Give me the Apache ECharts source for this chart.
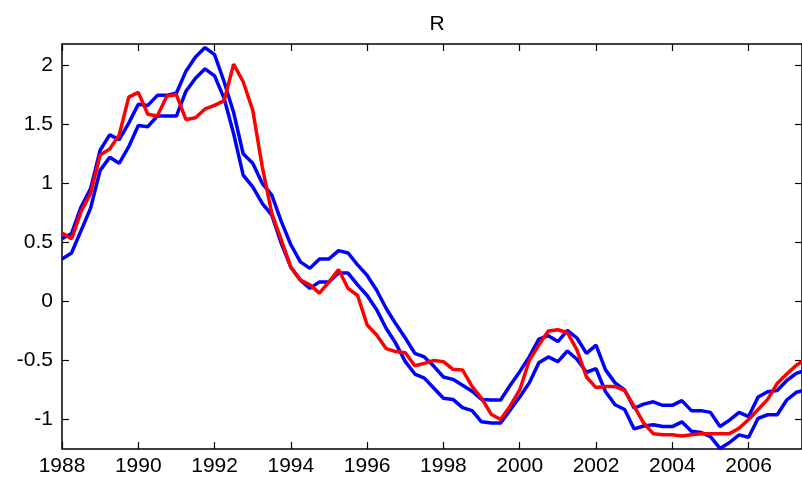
<!DOCTYPE html>
<html>
<head>
<meta charset="utf-8">
<script src="https://cdn.jsdelivr.net/npm/echarts@6/dist/echarts.min.js"></script>
<style>
html,body{margin:0;padding:0;background:#fff;}
#chart{width:802px;height:480px;}
</style>
</head>
<body>
<div id="chart"></div>
<script>
const titleText = 'R';
const dates = [1988,1988.25,1988.5,1988.75,1989,1989.25,1989.5,1989.75,1990,1990.25,1990.5,1990.75,
1991,1991.25,1991.5,1991.75,1992,1992.25,1992.5,1992.75,1993,1993.25,1993.5,1993.75,
1994,1994.25,1994.5,1994.75,1995,1995.25,1995.5,1995.75,1996,1996.25,1996.5,1996.75,
1997,1997.25,1997.5,1997.75,1998,1998.25,1998.5,1998.75,1999,1999.25,1999.5,1999.75,
2000,2000.25,2000.5,2000.75,2001,2001.25,2001.5,2001.75,2002,2002.25,2002.5,2002.75,
2003,2003.25,2003.5,2003.75,2004,2004.25,2004.5,2004.75,2005,2005.25,2005.5,2005.75,
2006,2006.25,2006.5,2006.75,2007,2007.25,2007.5];
const bandHigh = [0.53,0.575,0.80,0.955,1.28,1.41,1.37,1.51,1.67,1.66,1.745,1.745,
1.765,1.95,2.07,2.15,2.09,1.86,1.60,1.25,1.17,1.00,0.90,0.675,
0.48,0.335,0.28,0.36,0.36,0.43,0.41,0.31,0.22,0.095,-0.06,-0.19,
-0.31,-0.44,-0.47,-0.55,-0.64,-0.66,-0.71,-0.76,-0.83,-0.835,-0.835,-0.71,
-0.595,-0.47,-0.32,-0.29,-0.34,-0.245,-0.31,-0.44,-0.37,-0.58,-0.69,-0.75,
-0.905,-0.87,-0.85,-0.88,-0.88,-0.84,-0.925,-0.925,-0.94,-1.06,-1.005,-0.94,
-0.975,-0.81,-0.765,-0.755,-0.67,-0.61,-0.58];
const bandLow = [0.36,0.41,0.60,0.79,1.11,1.22,1.17,1.31,1.49,1.48,1.57,1.57,
1.57,1.78,1.89,1.97,1.91,1.72,1.42,1.07,0.97,0.83,0.73,0.49,
0.29,0.18,0.11,0.165,0.165,0.24,0.24,0.14,0.05,-0.07,-0.23,-0.355,
-0.51,-0.615,-0.65,-0.735,-0.82,-0.83,-0.90,-0.925,-1.02,-1.03,-1.03,-0.92,
-0.81,-0.69,-0.52,-0.47,-0.51,-0.42,-0.49,-0.60,-0.57,-0.765,-0.875,-0.915,
-1.08,-1.055,-1.045,-1.06,-1.06,-1.02,-1.10,-1.11,-1.145,-1.245,-1.195,-1.13,
-1.15,-0.99,-0.96,-0.96,-0.835,-0.77,-0.75];
const actual = [0.58,0.53,0.76,0.915,1.24,1.29,1.41,1.73,1.77,1.585,1.57,1.74,
1.75,1.54,1.555,1.63,1.66,1.70,2.01,1.86,1.62,1.14,0.745,0.52,
0.29,0.18,0.14,0.07,0.165,0.27,0.11,0.05,-0.20,-0.285,-0.40,-0.425,
-0.435,-0.545,-0.525,-0.50,-0.51,-0.575,-0.58,-0.72,-0.82,-0.955,-1.00,-0.885,
-0.75,-0.50,-0.37,-0.25,-0.24,-0.265,-0.41,-0.64,-0.73,-0.72,-0.72,-0.755,
-0.89,-1.03,-1.12,-1.13,-1.13,-1.14,-1.13,-1.12,-1.12,-1.12,-1.12,-1.075,
-1.00,-0.915,-0.83,-0.695,-0.615,-0.54,-0.49];
const xTicks = [1988,1990,1992,1994,1996,1998,2000,2002,2004,2006];
const yTicks = [-1,-0.5,0,0.5,1,1.5,2];

function pairs(v){ return dates.map((d,i)=>[d,v[i]]); }
const fontFamily = '"Liberation Sans", Arial, sans-serif';
const mkLine = ()=>({show:false, onZero:false});
const mkTick = (vals)=>({show:true, inside:true, length:7, customValues:vals.slice(), lineStyle:{color:'#000', width:1.2}});
const chart = echarts.init(document.getElementById('chart'));
chart.setOption({
  animation:false,
  title:{text:titleText, left:432, top:9, textAlign:'center',
    textStyle:{fontFamily, fontSize:21, fontWeight:'normal', color:'#000'}},
  grid:{left:62, top:44, right:0, bottom:31, containLabel:false,
    show:true, borderColor:'#000', borderWidth:1.5, backgroundColor:'transparent'},
  xAxis:[
    {type:'value', min:1988, max:2007.4, position:'bottom',
     axisLine:mkLine(), axisTick:mkTick(xTicks), splitLine:{show:false},
     axisLabel:{customValues:xTicks.slice(), fontFamily, fontSize:21, color:'#000', margin:7,
       formatter:v=>String(v)}},
    {type:'value', min:1988, max:2007.4, position:'top',
     axisLine:mkLine(), axisTick:mkTick(xTicks), splitLine:{show:false},
     axisLabel:{show:false, customValues:xTicks.slice()}}
  ],
  yAxis:[
    {type:'value', min:-1.25, max:2.18, position:'left',
     axisLine:mkLine(), axisTick:mkTick(yTicks), splitLine:{show:false},
     axisLabel:{customValues:yTicks.slice(), fontFamily, fontSize:21, color:'#000', margin:9,
       formatter:v=>String(v)}},
    {type:'value', min:-1.25, max:2.18, position:'right',
     axisLine:mkLine(), axisTick:mkTick(yTicks), splitLine:{show:false},
     axisLabel:{show:false, customValues:yTicks.slice()}}
  ],
  series:[
    {type:'line', data:pairs(bandHigh), showSymbol:false, lineStyle:{color:'#0000ff', width:3.5}, itemStyle:{color:'#0000ff'}},
    {type:'line', data:pairs(bandLow), showSymbol:false, lineStyle:{color:'#0000ff', width:3.5}, itemStyle:{color:'#0000ff'}},
    {type:'line', data:pairs(actual), showSymbol:false, lineStyle:{color:'#ff0000', width:3.5}, itemStyle:{color:'#ff0000'}}
  ]
});
</script>
</body>
</html>
